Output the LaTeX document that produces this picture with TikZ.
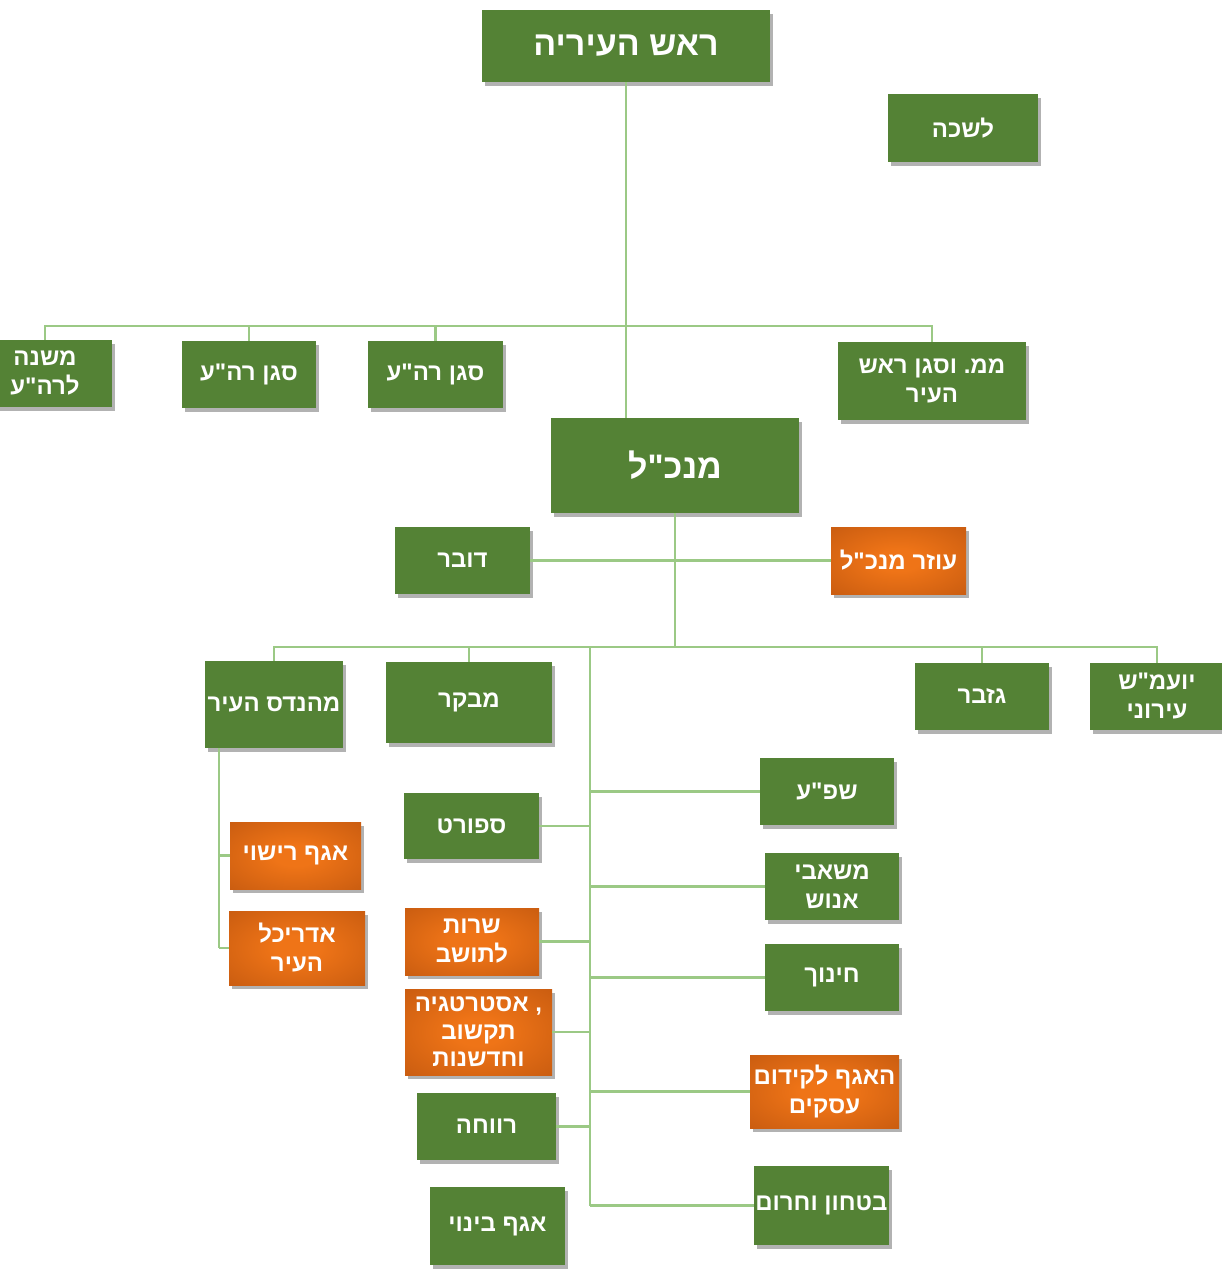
\documentclass[tikz,border=0pt]{standalone}
\usepackage{fontspec}
\usetikzlibrary{shadows}
\TeXXeTstate=1
\frenchspacing
\newfontfamily\heb[Script=Hebrew]{Liberation Sans}
\newcommand\hb[1]{\beginR#1\endR}
\definecolor{boxgreen}{HTML}{548235}
\definecolor{linegreen}{HTML}{9BC985}
\definecolor{orin}{HTML}{EF7417}
\definecolor{orout}{HTML}{BC540E}
\pgfdeclareradialshading{orshade}{\pgfpoint{0bp}{0bp}}{color(0bp)=(orin); color(8bp)=(orin); color(46bp)=(orout); color(75bp)=(orout)}
\tikzset{
  base/.style={rectangle, text=white, align=center, inner sep=0pt,
    font=\heb\bfseries\fontsize{24}{29}\selectfont,
    drop shadow={shadow xshift=2.5pt, shadow yshift=-3.5pt, opacity=0.3, fill=black}},
  gbox/.style={base, fill=boxgreen},
  obox/.style={base, shade, shading=orshade},
  sz/.style 2 args={minimum width=#1, minimum height=#2},
  conn/.style={draw=linegreen, line width=2.5pt}
}
\begin{document}
\begin{tikzpicture}[x=1pt,y=-1pt]
\useasboundingbox (0,0) rectangle (1222,1269);
% top level
\node[gbox, sz={288pt}{72pt}, font=\heb\bfseries\fontsize{34}{38}\selectfont] (mayor) at (626,46) {\hb{ראש העיריה}};
\node[gbox, sz={150pt}{68pt}] (lishka) at (963,128) {\hb{לשכה}};
\node[gbox, sz={134pt}{67pt}] (mishne) at (45,373.5) {\hb{משנה}\\\hb{לרה"ע}};
\node[gbox, sz={134pt}{67pt}] (sgan1) at (249,374.5) {\hb{סגן רה"ע}};
\node[gbox, sz={135pt}{67pt}] (sgan2) at (435.5,374.5) {\hb{סגן רה"ע}};
\node[gbox, sz={188pt}{78pt}] (mm) at (932,381) {\hb{ממ\kern0pt. וסגן ראש}\\\hb{העיר}};
\node[gbox, sz={248pt}{95pt}, font=\heb\bfseries\fontsize{34}{38}\selectfont] (mankal) at (675,465.5) {\hb{מנכ"ל}};
\node[gbox, sz={135pt}{67pt}] (dover) at (462.5,560.5) {\hb{דובר}};
\node[obox, sz={135pt}{67pt}] (ozer) at (898.5,560.5) {\hb{עוזר מנכ"ל}};
% second level
\node[gbox, sz={138pt}{87pt}] (mehandes) at (274,704.5) {\hb{מהנדס העיר}};
\node[gbox, sz={166pt}{81pt}] (mevaker) at (469,702.5) {\hb{מבקר}};
\node[gbox, sz={134pt}{67pt}] (gizbar) at (982,696.5) {\hb{גזבר}};
\node[gbox, sz={134pt}{67pt}] (yoamash) at (1157,696.5) {\hb{יועמ"ש}\\\hb{עירוני}};
% right column
\node[gbox, sz={134pt}{67pt}] (shpa) at (827,791.5) {\hb{שפ"ע}};
\node[gbox, sz={134pt}{67pt}] (mashabei) at (832,886.5) {\hb{משאבי}\\\hb{אנוש}};
\node[gbox, sz={134pt}{67pt}] (chinuch) at (832,977.5) {\hb{חינוך}};
\node[obox, sz={149pt}{73pt}] (kidum) at (824.5,1091.5) {\hb{האגף לקידום}\\\hb{עסקים}};
\node[gbox, sz={135pt}{79pt}] (bitachon) at (821.5,1205.5) {\hb{בטחון וחרום}};
% left column
\node[gbox, sz={135pt}{66pt}] (sport) at (471.5,826) {\hb{ספורט}};
\node[obox, sz={134pt}{67pt}] (sherut) at (472,941.5) {\hb{שרות}\\\hb{לתושב}};
\node[obox, sz={147pt}{86pt}, font=\heb\bfseries\fontsize{24}{27.5}\selectfont] (astrat) at (478.5,1032) {\hb{אסטרטגיה}\ ,\\\hb{תקשוב}\\\hb{וחדשנות}};
\node[gbox, sz={139pt}{67pt}] (revacha) at (486.5,1126.5) {\hb{רווחה}};
\node[gbox, sz={135pt}{78pt}] (binui) at (497.5,1226) {\hb{אגף בינוי}};
% engineer sub
\node[obox, sz={131pt}{67pt}] (rishui) at (295.5,855.5) {\hb{אגף רישוי}};
\node[obox, sz={136pt}{74pt}] (adrichal) at (297,948) {\hb{אדריכל}\\\hb{העיר}};
% connectors
\coordinate (b1) at (626,326);
\coordinate (b2) at (675,647);
\coordinate (t) at (590,647);
\coordinate (m1) at (219,748);
\draw[conn] (mayor.south) -- (mayor.south |- mankal.north);
\draw[conn] (b1) -| (mishne.north);
\draw[conn] (b1) -| (sgan1.north);
\draw[conn] (b1) -| (sgan2.north);
\draw[conn] (b1) -| (mm.north);
\draw[conn] (mankal.south) -- (b2);
\draw[conn] (dover.east) -- (dover.east -| mankal.south);
\draw[conn] (ozer.west) -- (ozer.west -| mankal.south);
\draw[conn] (b2) -| (mehandes.north);
\draw[conn] (b2) -| (mevaker.north);
\draw[conn] (b2) -| (gizbar.north);
\draw[conn] (b2) -| (yoamash.north);
\draw[conn] (t) -- (t |- bitachon.west);
\foreach \n in {shpa,mashabei,chinuch,kidum,bitachon}
  \draw[conn] (\n.west) -- (\n.west -| t);
\foreach \n in {sport,sherut,astrat,revacha}
  \draw[conn] (\n.east) -- (\n.east -| t);
\draw[conn] (m1) -- (m1 |- adrichal.west);
\draw[conn] (rishui.west) -- (rishui.west -| m1);
\draw[conn] (adrichal.west) -- (adrichal.west -| m1);
\end{tikzpicture}
\end{document}
